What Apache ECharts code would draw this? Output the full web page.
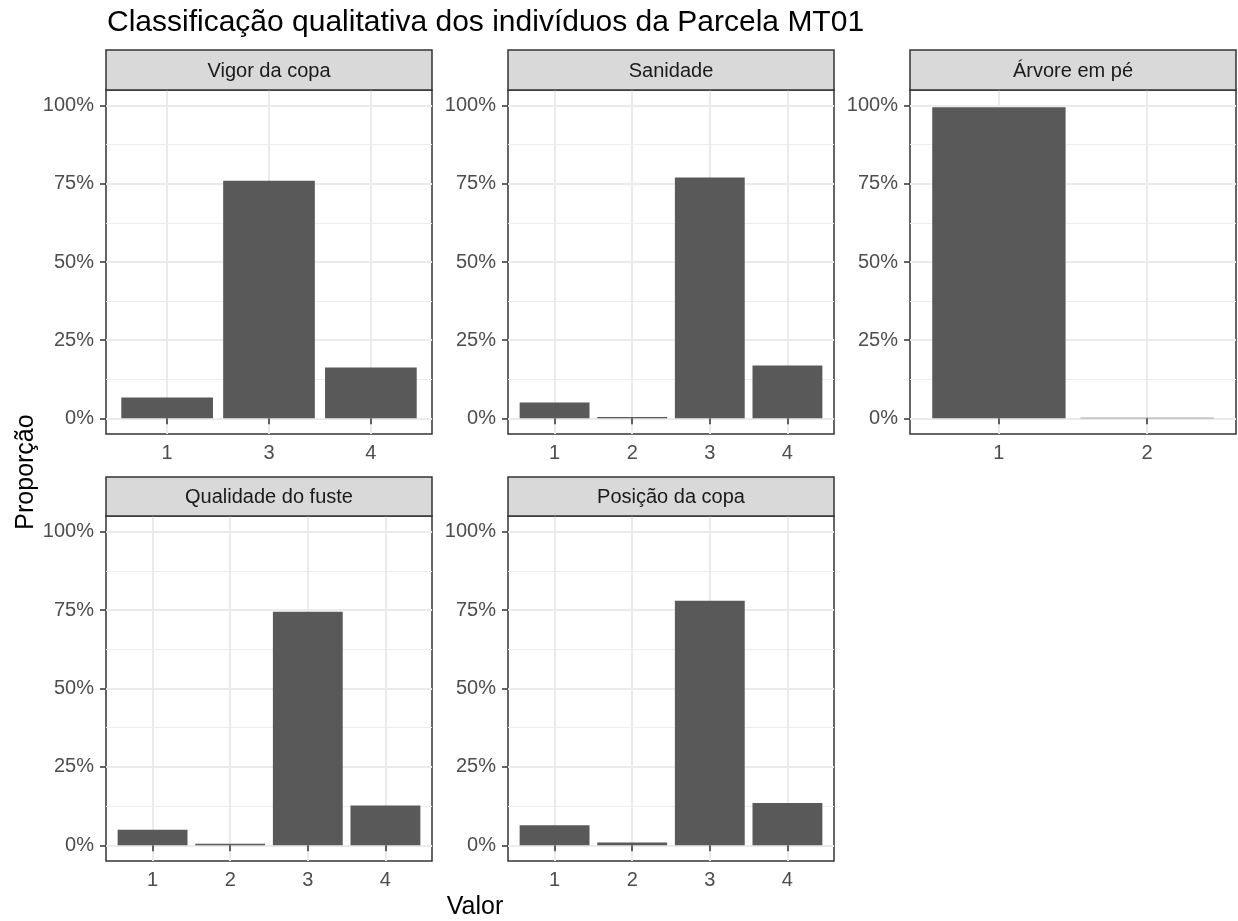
<!DOCTYPE html>
<html><head><meta charset="utf-8">
<script src="https://cdn.jsdelivr.net/npm/echarts@6/dist/echarts.min.js"></script>
<style>html,body{margin:0;padding:0;background:#fff}#c{width:1238px;height:921px}</style>
</head><body><div id="c"></div>
<script>
// ---- data ----
const titleText = 'Classificação qualitativa dos indivíduos da Parcela MT01';
const xTitle = 'Valor';
const yTitle = 'Proporção';
const panelNames = ['Vigor da copa', 'Sanidade', 'Árvore em pé', 'Qualidade do fuste', 'Posição da copa'];
const vigorCats = ['1', '3', '4'];
const vigorVals = [0.067, 0.760, 0.163];
const sanidadeCats = ['1', '2', '3', '4'];
const sanidadeVals = [0.051, 0.004, 0.770, 0.169];
const arvoreCats = ['1', '2'];
const arvoreVals = [0.995, 0.002];
const qualidadeCats = ['1', '2', '3', '4'];
const qualidadeVals = [0.050, 0.005, 0.745, 0.127];
const posicaoCats = ['1', '2', '3', '4'];
const posicaoVals = [0.064, 0.009, 0.780, 0.135];
const yTicks = [0, 0.25, 0.5, 0.75, 1];
const yTickLabels = ['0%', '25%', '50%', '75%', '100%'];
const yMinor = [0.125, 0.375, 0.625, 0.875];

const panelCats = [vigorCats, sanidadeCats, arvoreCats, qualidadeCats, posicaoCats];
const panelVals = [vigorVals, sanidadeVals, arvoreVals, qualidadeVals, posicaoVals];

// ---- layout ----
const FONT = '"Liberation Sans", Arial, sans-serif';
const colX = [106, 508, 910];
const rowTop = [90, 516];
const rowH = [344, 345];
const stripH = [40, 39];
const PW = 326;
const BORDER = '#333333';

const grids = [], xAxes = [], yAxes = [], series = [], graphics = [];
panelNames.forEach((name, i) => {
  const col = i % 3, row = Math.floor(i / 3);
  const left = colX[col], top = rowTop[row], h = rowH[row];
  const cats = panelCats[i], vals = panelVals[i];
  const n = cats.length;
  grids.push({left: left, top: top, width: PW, height: h, show: true,
    backgroundColor: '#ffffff', borderColor: BORDER, borderWidth: 1.5, containLabel: false});
  const pos = cats.map((c, j) => j + 1);
  xAxes.push({type: 'value', gridIndex: i, min: 0.4, max: n + 0.6,
    axisLine: {show: false},
    axisTick: {show: true, customValues: pos, length: 6, lineStyle: {color: BORDER, width: 1.5}},
    axisLabel: {show: true, customValues: pos, margin: 9, color: '#4D4D4D', fontSize: 20, fontFamily: FONT,
      formatter: v => cats[Math.round(v) - 1]},
    splitLine: {show: true, lineStyle: {color: '#EBEBEB', width: 2}}
  });
  yAxes.push({type: 'value', gridIndex: i, min: -0.05, max: 1.05, position: 'left',
    axisLine: {show: false},
    axisTick: {show: true, customValues: yTicks, length: 6, lineStyle: {color: BORDER, width: 1.5}},
    axisLabel: {show: true, customValues: yTicks, margin: 12, color: '#4D4D4D', fontSize: 20, fontFamily: FONT,
      formatter: v => {
        let k = 0, d = 1e9;
        yTicks.forEach((t, j) => { if (Math.abs(t - v) < d) { d = Math.abs(t - v); k = j; } });
        return yTickLabels[k];
      }},
    splitLine: {show: true, lineStyle: {color: '#EBEBEB', width: 2}}
  });
  yAxes.push({type: 'value', gridIndex: i, min: -0.05, max: 1.05, position: 'right',
    axisLine: {show: false},
    axisTick: {show: false, customValues: yMinor},
    axisLabel: {show: false, customValues: yMinor},
    splitLine: {show: true, lineStyle: {color: '#EDEDED', width: 1}}
  });
  series.push({type: 'bar', xAxisIndex: i, yAxisIndex: i * 2,
    barWidth: PW / (n + 0.2) * 0.9,
    itemStyle: {color: '#595959'},
    silent: true,
    data: cats.map((c, j) => [j + 1, vals[j]])
  });
  const sTop = top - stripH[row];
  graphics.push({type: 'rect', shape: {x: left, y: sTop, width: PW, height: stripH[row]},
    style: {fill: '#D9D9D9', stroke: BORDER, lineWidth: 1.5}, z: 10});
  graphics.push({type: 'text', x: left + PW / 2, y: sTop + stripH[row] / 2 + 1,
    style: {text: name, fill: '#1A1A1A', font: '20px ' + FONT, textAlign: 'center', textVerticalAlign: 'middle'}, z: 11});
});

graphics.push({type: 'text', x: 107, y: 23,
  style: {text: titleText, fill: '#000000', font: '30px ' + FONT, textAlign: 'left', textVerticalAlign: 'middle'}});
graphics.push({type: 'text', x: 475, y: 907,
  style: {text: xTitle, fill: '#000000', font: '25px ' + FONT, textAlign: 'center', textVerticalAlign: 'middle'}});
graphics.push({type: 'text', x: 26, y: 472, rotation: Math.PI / 2,
  style: {text: yTitle, fill: '#000000', font: '25px ' + FONT, textAlign: 'center', textVerticalAlign: 'middle'}});

const chart = echarts.init(document.getElementById('c'), null, {renderer: 'canvas'});
chart.setOption({
  animation: false,
  backgroundColor: '#ffffff',
  grid: grids, xAxis: xAxes, yAxis: yAxes, series: series,
  graphic: graphics
});
</script></body></html>
